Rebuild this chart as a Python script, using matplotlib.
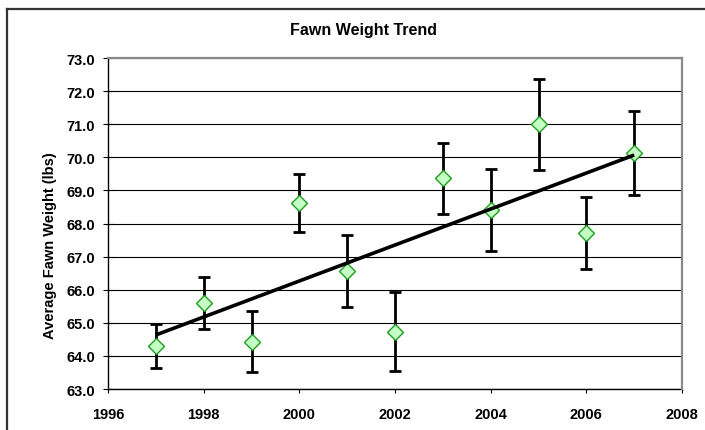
import numpy as np
import matplotlib
matplotlib.use("Agg")
import matplotlib.pyplot as plt
from matplotlib.lines import Line2D

# Data
years = [1997, 1998, 1999, 2000, 2001, 2002, 2003, 2004, 2005, 2006, 2007]
weights = [64.30, 65.59, 64.43, 68.61, 66.56, 64.73, 69.37, 68.41, 71.00, 67.72, 70.13]
errors = [0.67, 0.79, 0.92, 0.88, 1.09, 1.20, 1.07, 1.25, 1.38, 1.08, 1.26]
x_ticks = [1996, 1998, 2000, 2002, 2004, 2006, 2008]
y_ticks = [63.0, 64.0, 65.0, 66.0, 67.0, 68.0, 69.0, 70.0, 71.0, 72.0, 73.0]
title = "Fawn Weight Trend"
ylabel = "Average Fawn Weight (lbs)"

plt.rcParams['font.family'] = ['Liberation Sans', 'DejaVu Sans']
plt.rcParams['font.weight'] = 'bold'

W, H = 705, 431
fig = plt.figure(figsize=(W / 100, H / 100), dpi=100)
fig.patch.set_facecolor('white')

ax = fig.add_axes([108 / W, 1 - 390 / H, 574 / W, 331 / H])
ax.set_xlim(1996, 2008)
ax.set_ylim(63, 73)

# gridlines
ax.set_axisbelow(True)
ax.yaxis.grid(True, color='black', linewidth=0.8)
ax.xaxis.grid(False)

# error bars
ax.errorbar(years, weights, yerr=errors, fmt='none', ecolor='black',
            elinewidth=2.0, capsize=4.2, capthick=2.0, zorder=3)

# markers
ax.plot(years, weights, linestyle='none', marker='D', markersize=8.2,
        markerfacecolor='#C4FFC4', markeredgecolor='#1E9E1E',
        markeredgewidth=1.0, zorder=4)

# linear trend line
coef = np.polyfit(years, weights, 1)
yrs = np.array([years[0], years[-1]])
ax.plot(yrs, np.polyval(coef, yrs), color='black', linewidth=2.6,
        solid_capstyle='butt', zorder=5)

ax.set_xticks(x_ticks)
ax.set_xticklabels([str(v) for v in x_ticks])
ax.set_yticks(y_ticks)
ax.set_yticklabels([f"{v:.1f}" for v in y_ticks])

ax.tick_params(axis='y', direction='inout', length=6.5, width=0.8,
               pad=6.0, labelsize=10.5, colors='black')
ax.tick_params(axis='x', direction='out', length=3, width=0.8,
               pad=10, labelsize=10.5, colors='black')
for lab in ax.get_xticklabels() + ax.get_yticklabels():
    lab.set_fontweight('bold')

for s in ['left', 'bottom']:
    ax.spines[s].set_color('black')
    ax.spines[s].set_linewidth(1.0)
for s in ['top', 'right']:
    ax.spines[s].set_color('#8a8a8a')
    ax.spines[s].set_linewidth(1.6)
    ax.spines[s].set_zorder(6)

fig.text(50 / W, 1 - 246 / H, ylabel, rotation=90, ha='center', va='center',
         fontsize=10.5, fontweight='bold')
fig.text(364 / W, 1 - 31 / H, title, ha='center', va='center',
         fontsize=11.5, fontweight='bold')

# outer chart border (left and top)
fig.add_artist(Line2D([7 / W, 7 / W], [0, 1 - 10 / H], transform=fig.transFigure,
                      color='#333333', linewidth=1.6))
fig.add_artist(Line2D([7 / W, 1.0], [1 - 10 / H, 1 - 10 / H], transform=fig.transFigure,
                      color='#333333', linewidth=1.6, solid_capstyle='projecting'))

fig.savefig('out.png', dpi=100, facecolor='white')
